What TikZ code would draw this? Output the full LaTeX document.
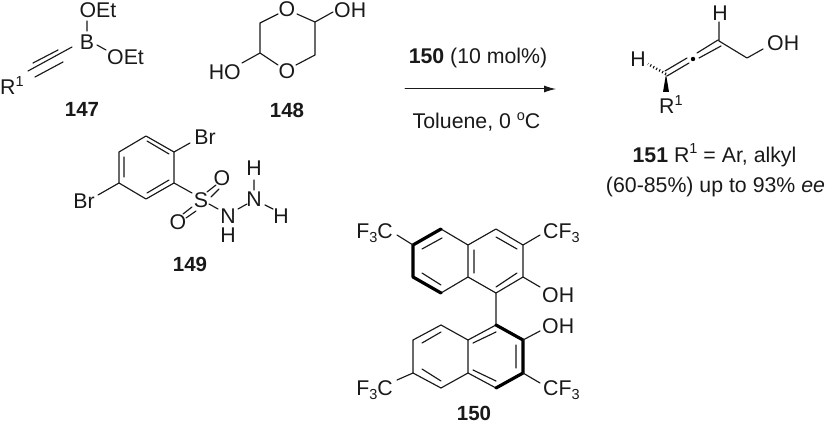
\documentclass[tikz,border=0pt]{standalone}
\usepackage{fontspec}
\usetikzlibrary{arrows.meta}
\setmainfont{Liberation Sans}
\newcommand{\supr}[1]{\raisebox{8.5pt}{\fontsize{14.5}{16}\selectfont #1}}
\newcommand{\subr}[1]{\raisebox{-4pt}{\fontsize{14.5}{16}\selectfont #1}}
\tikzset{
  lbl/.style={inner sep=0pt,font=\fontsize{21.3}{24}\selectfont,text=black!90},
  cmpd/.style={inner sep=0pt,font=\fontsize{20.5}{24}\selectfont\bfseries,text=black!90},
  bond/.style={draw=black!90,line width=1.15pt,line cap=round,line join=round},
  boldbond/.style={draw=black,line width=3.2pt,line cap=round,line join=round},
}
\newcommand{\pt}[2]{\coordinate (#1) at (#2);}
\begin{document}
\begin{tikzpicture}[x=1pt,y=-1pt]
\useasboundingbox (0,0) rectangle (826,422);
% ---- 147
\node[lbl,anchor=base west] (r147) at (0,95) {R\supr{1}};
\node[lbl] (oet1) at (98,10) {OEt};
\node[lbl] (b147) at (87,42) {B};
\node[lbl,anchor=west] (oet2) at (107,57) {OEt};
\node[cmpd] (n147) at (82,109) {147};
\pt{t1}{28,71}\pt{t2}{72,47}\pt{t1a}{33,63}\pt{t2a}{58,50}\pt{t1b}{35,77}\pt{t2b}{63,62}
\pt{bo1a}{87,21}\pt{bo1b}{87,31}\pt{bo2a}{97,45}\pt{bo2b}{106,50}
\draw[bond] (t1)--(t2) (t1a)--(t2a) (t1b)--(t2b) (bo1a)--(bo1b) (bo2a)--(bo2b);
% ---- 148
\node[lbl] (o148a) at (287,9) {O};
\node[lbl] (o148b) at (287,71) {O};
\node[lbl,anchor=east] (ho148) at (241,72) {HO};
\node[lbl,anchor=west] (oh148) at (334,10) {OH};
\node[cmpd] (n148) at (287,110) {148};
\pt{c1}{260,23}\pt{c2}{260,53}\pt{c3}{315,22}\pt{c4}{315,55}
\pt{o1l}{278,14}\pt{o1r}{297,14}\pt{o2l}{278,65}\pt{o2r}{296,65}
\pt{hoe}{242,63}\pt{ohe}{333,12}
\draw[bond] (o1l)--(c1)--(c2)--(o2l) (o1r)--(c3)--(c4)--(o2r) (c2)--(hoe) (c3)--(ohe);
% ---- arrow
\pt{arrs}{405,89}\pt{arre}{556,89}
\draw[bond,line width=1pt,-{Latex[length=12pt,width=7pt]}] (arrs)--(arre);
\node[lbl,anchor=base] (cat) at (478,64) {\textbf{150} (10 mol\%)};
\node[lbl,anchor=base] (cond) at (476.5,129) {Toluene, 0 \supr{o}C};
% ---- 149
\pt{a1}{146,136}\pt{a2}{174,152}\pt{a3}{174,183}\pt{a4}{146,199}\pt{a5}{119,183}\pt{a6}{119,152}
\pt{i1}{147,141}\pt{i2}{169,154}\pt{i3}{169,180}\pt{i4}{147,193}\pt{i5}{124,177}\pt{i6}{124,157}
\draw[bond] (a1)--(a2)--(a3)--(a4)--(a5)--(a6)--cycle (i1)--(i2) (i3)--(i4) (i5)--(i6);
\node[lbl] (br1) at (205,137) {Br};
\node[lbl] (br2) at (84,201) {Br};
\node[lbl] (s) at (201,200) {S};
\node[lbl] (o1) at (222,178) {O};
\node[lbl] (o2) at (178,222) {O};
\node[lbl] (n1) at (228,216) {N};
\node[lbl] (h1) at (228,235.5) {H};
\node[lbl] (n2) at (254,199.5) {N};
\node[lbl] (h2) at (254,168) {H};
\node[lbl] (h3) at (281,216) {H};
\node[cmpd] (n149) at (190,264) {149};
\pt{br1e}{190,143}\pt{br2e}{98,195}\pt{se}{192,193}
\pt{so1a}{207,192}\pt{so1b}{216,185}\pt{so1c}{211,197}\pt{so1d}{219,189}
\pt{so2a}{192,207}\pt{so2b}{183,214}\pt{so2c}{196,211}\pt{so2d}{186,218}
\pt{sn1}{209,204}\pt{sn2}{218,209}\pt{nn1}{238,209}\pt{nn2}{247,204}
\pt{nh1}{254,180}\pt{nh2}{254,190}\pt{nh3}{265,205}\pt{nh4}{273,209}
\draw[bond] (a2)--(br1e) (a5)--(br2e) (a3)--(se) (so1a)--(so1b) (so1c)--(so1d) (so2a)--(so2b) (so2c)--(so2d)
  (sn1)--(sn2) (nn1)--(nn2) (nh1)--(nh2) (nh3)--(nh4);
% ---- 151
\node[lbl] (h151a) at (720,13) {H};
\node[lbl,anchor=west] (oh151) at (767,43) {OH};
\node[lbl] (h151b) at (638,59) {H};
\node[lbl,anchor=base west] (r151) at (659,114) {R\supr{1}};
\pt{k1}{719,41}\pt{k0}{719,22}\pt{k2}{747,58}\pt{k3}{763,49}
\pt{d1a}{718,40}\pt{d1b}{697,53}\pt{d1c}{721,46}\pt{d1d}{699,58}
\pt{d2a}{687,58}\pt{d2b}{665,71}\pt{d2c}{689,63}\pt{d2d}{667,76}
\pt{cdot}{693,59}\pt{chir}{666,74}\pt{hash}{648,64}\pt{wl}{663,92}\pt{wr}{669,92}
\draw[bond] (k0)--(k1)--(k2)--(k3) (d1a)--(d1b) (d1c)--(d1d) (d2a)--(d2b) (d2c)--(d2d);
\fill[black] (cdot) circle (2.2pt);
\fill[black] (chir)--(wl)--(wr)--cycle;
\draw[draw=black,line width=2.6pt,dash pattern=on 1pt off 2.4pt] (chir)--(hash);
\node[lbl,anchor=base] (res1) at (714.5,162) {\textbf{151} R\supr{1} = Ar, alkyl};
\node[lbl,anchor=base] (res2) at (715.5,192) {(60-85\%) up to 93\% \textit{ee}};
% ---- 150 upper
\pt{u1}{413,245}\pt{u2}{441,229}\pt{u3}{468,245}\pt{u4}{496,229}\pt{u5}{523,245}\pt{u6}{523,277}\pt{u7}{496,293}\pt{u8}{468,277}\pt{u9}{441,293}\pt{u10}{413,277}
\pt{ui1}{422,249}\pt{ui2}{442,238}\pt{ui3}{422,273}\pt{ui4}{441,285}\pt{ui5}{474,250}\pt{ui6}{474,273}
\pt{ui7}{496,237}\pt{ui8}{517,249}\pt{ui9}{496,287}\pt{ui10}{517,273}
\draw[bond] (u2)--(u3)--(u4)--(u5)--(u6)--(u7)--(u8)--(u9) (u3)--(u8)
  (ui1)--(ui2) (ui3)--(ui4) (ui5)--(ui6) (ui7)--(ui8) (ui9)--(ui10);
\draw[boldbond] (u2)--(u1)--(u10)--(u9);
\node[lbl,anchor=base east] (f1) at (393,238.5) {F\subr{3}C};
\node[lbl,anchor=base west] (f2) at (543,238.5) {CF\subr{3}};
\node[lbl,anchor=west] (oh1) at (542,295) {OH};
\pt{f1e}{397,235}\pt{f2e}{540,235}\pt{oh1e}{540,287}
\draw[bond] (f1e)--(u1) (f2e)--(u5) (oh1e)--(u6);
% ---- 150 lower
\pt{v1}{496,325}\pt{v2}{523,340}\pt{v3}{523,373}\pt{v4}{496,388}\pt{v5}{468,373}\pt{v6}{468,340}\pt{v7}{441,325}\pt{v8}{413,340}\pt{v9}{413,373}\pt{v10}{441,388}
\pt{vi1}{516,345}\pt{vi2}{516,368}\pt{vi3}{473,343}\pt{vi4}{496,332}\pt{vi5}{473,370}\pt{vi6}{496,381}
\pt{vi7}{422,343}\pt{vi8}{441,332}\pt{vi9}{422,369}\pt{vi10}{441,381}
\draw[bond] (v4)--(v5)--(v6)--(v1) (v6)--(v7)--(v8)--(v9)--(v10)--(v5)
  (vi1)--(vi2) (vi3)--(vi4) (vi5)--(vi6) (vi7)--(vi8) (vi9)--(vi10) (u7)--(v1);
\draw[boldbond] (v1)--(v2)--(v3)--(v4);
\node[lbl,anchor=west] (oh2) at (542,326) {OH};
\node[lbl,anchor=base east] (f3) at (393,395) {F\subr{3}C};
\node[lbl,anchor=base west] (f4) at (543,395) {CF\subr{3}};
\node[cmpd,anchor=base] (n150) at (474,420) {150};
\pt{oh2e}{540,331}\pt{f3e}{397,380}\pt{f4e}{540,383}
\draw[bond] (oh2e)--(v2) (f3e)--(v9) (f4e)--(v3);
\end{tikzpicture}
\end{document}
